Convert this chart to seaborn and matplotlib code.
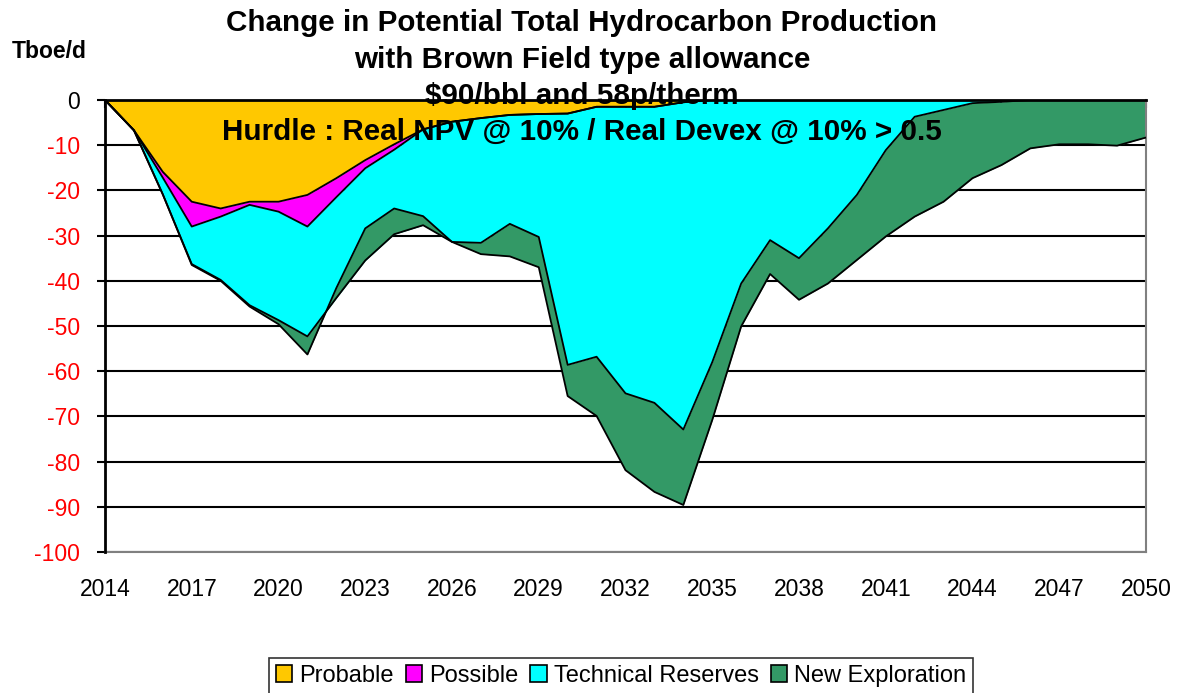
import matplotlib
matplotlib.use("Agg")
import matplotlib.pyplot as plt
from matplotlib.patches import Patch
from matplotlib.ticker import MultipleLocator
import numpy as np
import pandas as pd
import seaborn as sns

# ---------------- data (Tboe/d) ----------------
years = list(range(2014, 2051))
probable = [0, -6.7, -15.9, -22.5, -24.0, -22.5, -22.5, -21.0, -17.3, -13.3,
            -9.8, -6.5, -4.8, -4.0, -3.3, -3.1, -3.0, -1.5, -1.5, -1.5,
            -0.5, 0, 0, 0, 0, 0, 0, 0, 0, 0,
            0, 0, 0, 0, 0, 0, 0]
possible = [0, 0, -1.3, -5.5, -1.8, -0.7, -2.2, -7.0, -4.2, -1.8,
            -1.2, 0, 0, 0, 0, 0, 0, 0, 0, 0,
            0, 0, 0, 0, 0, 0, 0, 0, 0, 0,
            0, 0, 0, 0, 0, 0, 0]
technical = [0, 0, -3.7, -8.3, -14.0, -22.2, -24.0, -24.3, -22.3, -20.4,
             -18.7, -21.2, -26.6, -27.6, -24.1, -27.2, -55.6, -55.3, -63.4, -65.5,
             -72.4, -58.0, -40.6, -31.0, -35.0, -28.4, -21.0, -11.1, -3.7, -2.2,
             -0.7, -0.4, 0, 0, 0, 0, 0]
new_exploration = [0, 0, 0, -0.2, -0.2, -0.3, -0.9, -4.0, 2.2, 7.1,
                   5.7, 2.0, 0, -2.5, -7.2, -6.7, -6.9, -13.1, -17.0, -19.7,
                   -16.7, -12.8, -9.5, -7.5, -9.2, -12.2, -14.4, -19.1, -22.1, -20.3,
                   -16.6, -14.0, -10.7, -9.8, -9.8, -10.1, -8.3]
series_names = ["Probable", "Possible", "Technical Reserves", "New Exploration"]
colors = ["#FFC800", "#FF00FF", "#00FFFF", "#339966"]
y_ticks = list(range(-100, 1, 10))
x_label_years = list(range(2014, 2051, 3))

title_lines = ["Change in Potential Total Hydrocarbon Production",
               "with Brown Field type allowance",
               "$90/bbl and 58p/therm",
               "Hurdle : Real NPV @ 10% / Real Devex @ 10% > 0.5"]

# ---------------- style ----------------
sns.set_theme(style="white")
plt.rcParams["font.family"] = ["Liberation Sans", "DejaVu Sans"]
plt.rcParams["axes.unicode_minus"] = False
plt.rcParams["text.color"] = "black"

W, H = 1183, 693
fig = plt.figure(figsize=(W / 100, H / 100), dpi=100)
ax = fig.add_axes([105 / W, 1 - 552 / H, (1146 - 105) / W, (552 - 100) / H])

# stacked areas
ax.stackplot(years, probable, possible, technical, new_exploration,
             colors=colors, linewidth=0, zorder=2)

# boundary lines of the stacked areas
df = pd.DataFrame({"year": years, "Probable": probable, "Possible": possible,
                   "Technical Reserves": technical, "New Exploration": new_exploration})
cum = df[series_names].cumsum(axis=1)
cum["year"] = df["year"]
long = cum.melt(id_vars="year", var_name="series", value_name="value")
sns.lineplot(data=long, x="year", y="value", units="series", estimator=None,
             color="black", linewidth=1.3, ax=ax, zorder=3, legend=False)

ax.set_xlim(2014, 2050)
ax.set_ylim(-100, 0)
ax.set_xlabel("")
ax.set_ylabel("")

# grid
ax.set_yticks(y_ticks)
ax.yaxis.grid(True, color="black", linewidth=1.5, zorder=0)
ax.xaxis.grid(False)
ax.set_axisbelow(True)

# x axis: ticks on the zero line, labels at the bottom
ax.set_xticks(x_label_years)
ax.set_xticklabels([str(y) for y in x_label_years])
ax.xaxis.set_minor_locator(MultipleLocator(1))
ax.tick_params(axis="x", which="both", bottom=False, top=True, direction="in",
               length=6, width=1.5, color="black", labelbottom=True, labeltop=False,
               labelsize=16.5, pad=19)
ax.tick_params(axis="y", which="major", left=True, direction="out", length=6,
               width=1.5, color="black", labelsize=16.5, pad=12)
for lab, v in zip(ax.get_yticklabels(), y_ticks):
    lab.set_color("black" if v == 0 else "red")
for lab in ax.get_xticklabels():
    lab.set_color("black")

for side in ["top", "left"]:
    ax.spines[side].set_color("black")
    ax.spines[side].set_linewidth(2)
    ax.spines[side].set_zorder(5)
for side in ["bottom", "right"]:
    ax.spines[side].set_color("#808080")
    ax.spines[side].set_linewidth(1.5)

# titles
ys = [23, 60, 96, 132]
for t, yy in zip(title_lines, ys):
    fig.text(582 / W, 1 - yy / H, t, ha="center", va="center",
             fontsize=21.3, fontweight="bold", color="black", zorder=10)
fig.text(12 / W, 1 - 52 / H, "Tboe/d", ha="left", va="center",
         fontsize=16.5, fontweight="bold", color="black")

# legend
handles = [Patch(facecolor=c, edgecolor="black", linewidth=1.2) for c in colors]
leg = fig.legend(handles, series_names, loc="center",
                 bbox_to_anchor=(621 / W, 1 - 676 / H), ncol=4, frameon=True,
                 fontsize=17, handlelength=0.7, handleheight=0.7,
                 handletextpad=0.3, columnspacing=0.5, borderpad=0.3,
                 fancybox=False, labelcolor="black")
leg.get_frame().set_edgecolor("black")
leg.get_frame().set_linewidth(1.2)

fig.savefig("out.png", dpi=100)
